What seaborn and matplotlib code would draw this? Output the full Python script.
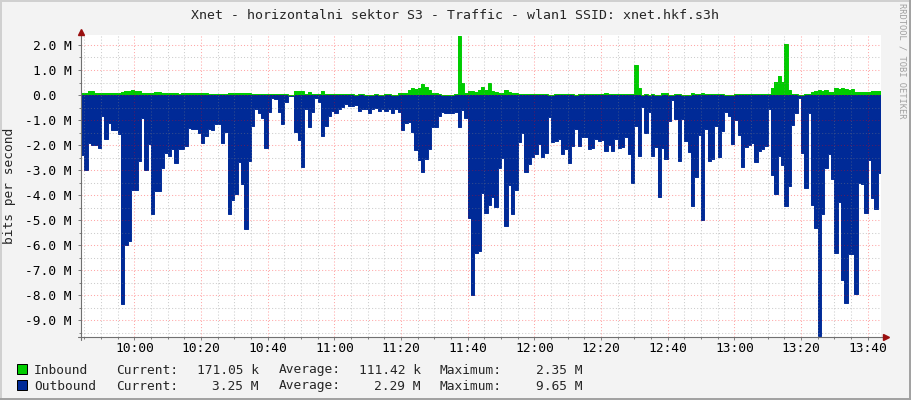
import numpy as np
import pandas as pd
import matplotlib
matplotlib.use('Agg')
import matplotlib.pyplot as plt
import matplotlib.dates as mdates
from matplotlib.ticker import MultipleLocator, FuncFormatter
from matplotlib.lines import Line2D
from matplotlib.patches import Rectangle
import seaborn as sns

# one sample per minute, starting 09:44, values in Mbit/s
inbound = [
    0.1, 0.1, 0.15, 0.16, 0.1, 0.09, 0.1, 0.1, 0.1, 0.08,
    0.08, 0.08, 0.12, 0.18, 0.17, 0.19, 0.17, 0.15, 0.07, 0.07,
    0.08, 0.08, 0.12, 0.12, 0.08, 0.08, 0.08, 0.07, 0.07, 0.06,
    0.1, 0.1, 0.1, 0.07, 0.07, 0.07, 0.1, 0.1, 0.06, 0.06,
    0.06, 0.06,
    0.05, 0.05, 0.09, 0.09, 0.09, 0.09, 0.09, 0.09, 0.09, 0.05,
    0.04, 0.04, 0.04, 0.05, 0.04, 0.04, 0.05, 0.05, 0.05, 0.03,
    0.0, 0.02, 0.16, 0.17, 0.15, 0.06, 0.12, 0.05, 0.03, 0.04,
    0.16, 0.06, 0.04, 0.03, 0.05, 0.03, 0.03, 0.03, 0.04, 0.04,
    0.02, 0.04, 0.04, 0.02, 0.02, 0.02, 0.04, 0.02, 0.02, 0.04,
    0.04, 0.02, 0.02, 0.09, 0.09, 0.07, 0.2, 0.27, 0.25, 0.29,
    0.45, 0.33, 0.2, 0.07, 0.07, 0.04, 0.0, 0.0, 0.0, 0.02,
    0.04, 2.35, 0.5, 0.07, 0.16, 0.16, 0.13, 0.2, 0.33, 0.2,
    0.47,
    0.16, 0.13, 0.09, 0.09, 0.2, 0.13, 0.1, 0.1, 0.04, 0.04,
    0.04, 0.04, 0.04, 0.04, 0.04, 0.04, 0.04, 0.0, 0.01, 0.04,
    0.04, 0.04, 0.04, 0.04, 0.03, 0.01, 0.04, 0.04, 0.04, 0.04,
    0.04, 0.04, 0.04, 0.04, 0.08, 0.04, 0.04, 0.04, 0.04, 0.04,
    0.04, 0.04, 0.04, 1.2, 0.29, 0.0, 0.04, 0.0, 0.04, 0.0,
    0.02, 0.09, 0.09, 0.0, 0.02, 0.04, 0.04, 0.0, 0.0, 0.02,
    0.09, 0.04, 0.04, 0.09, 0.04, 0.04, 0.04, 0.04, 0.04, 0.04,
    0.0, 0.0, 0.02, 0.04, 0.04, 0.04, 0.04, 0.04, 0.04, 0.04,
    0.04,
    0.04, 0.04, 0.04, 0.27, 0.53, 0.76, 0.53, 2.04, 0.2, 0.05,
    0.04, 0.01, 0.0, 0.04, 0.04, 0.13, 0.17, 0.2, 0.17, 0.2,
    0.13, 0.13, 0.27, 0.24, 0.27, 0.23, 0.2, 0.23, 0.13, 0.13,
    0.13, 0.13, 0.11, 0.16, 0.16, 0.17,
]

outbound = [
    2.4, 3.0, 1.9, 2.0, 2.0, 2.1, 0.85, 1.75, 1.1, 1.4,
    1.4, 1.55, 8.35, 6.0, 5.85, 3.8, 3.8, 2.65, 0.9, 3.0,
    1.95, 4.75, 3.85, 3.85, 2.9, 2.3, 2.45, 2.15, 2.7, 2.15,
    2.15, 2.05, 1.3, 1.35, 1.35, 1.5, 1.9, 1.65, 1.35, 1.4,
    1.15, 1.15,
    1.9, 1.47, 4.77, 4.2, 3.97, 2.67, 3.57, 5.37, 2.63, 1.23,
    0.56, 0.7, 0.9, 2.1, 0.67, 0.1, 0.17, 0.67, 1.17, 0.27,
    0.04, 0.04, 1.47, 1.8, 2.87, 0.56, 1.29, 0.67, 0.13, 0.27,
    1.63, 1.23, 0.83, 0.64, 0.7, 0.56, 0.47, 0.36, 0.44, 0.44,
    0.4, 0.62, 0.56, 0.56, 0.7, 0.56, 0.53, 0.64, 0.55, 0.62,
    0.56, 0.73, 0.56, 0.67, 1.4, 1.13, 1.09, 1.47, 2.2, 2.6,
    3.07, 2.57, 2.17, 1.27, 1.27, 0.84, 0.67, 0.7, 0.73, 0.73,
    0.67, 1.27, 0.6, 0.93, 4.93, 8.0, 6.3, 6.25, 3.9, 4.7,
    4.4,
    4.07, 4.47, 2.93, 2.53, 5.23, 3.6, 4.77, 3.8, 1.87, 1.53,
    3.07, 2.76, 2.47, 2.36, 1.96, 2.47, 2.33, 0.89, 1.87, 1.83,
    1.76, 2.37, 2.16, 2.7, 2.04, 1.37, 2.03, 1.69, 1.69, 2.17,
    2.13, 1.76, 1.83, 1.8, 2.23, 2.0, 2.24, 1.77, 2.13, 2.07,
    1.69, 2.36, 3.5, 1.24, 2.43, 0.49, 1.53, 0.68, 2.43, 2.07,
    4.07, 2.1, 2.57, 1.03, 0.2, 0.97, 2.64, 0.97, 1.83, 2.29,
    4.43, 3.27, 1.6, 5.0, 1.37, 2.63, 2.56, 1.24, 2.47, 1.43,
    0.69, 0.83, 1.96, 1.0, 1.6, 2.87, 2.07, 2.0, 1.91, 2.67,
    2.24,
    2.17, 2.03, 0.56, 3.2, 3.97, 2.44, 2.8, 4.43, 3.63, 1.2,
    0.71, 0.1, 2.31, 3.71, 0.71, 4.4, 5.31, 9.65, 4.77, 2.91,
    2.37, 3.37, 6.31, 4.29, 7.4, 8.33, 6.36, 6.36, 7.97, 3.53,
    3.55, 4.71, 2.6, 4.13, 4.57, 3.13,
]

legend_names = ['Inbound', 'Outbound']
legend_colors = ['#00cc00', '#002a97']
current_vals = ['171.05 k', '3.25 M']
average_vals = ['111.42 k', '2.29 M']
maximum_vals = ['2.35 M', '9.65 M']

title = 'Xnet - horizontalni sektor S3 - Traffic - wlan1 SSID: xnet.hkf.s3h'

W, H = 911, 400
MONO = ['DejaVu Sans Mono']
FS = 9.3

sns.set_theme(style='white')
plt.rcParams['font.family'] = MONO


def px(x, y):
    return x / W, 1 - y / H


times = pd.date_range('2000-01-01 09:44', periods=len(outbound) + 1, freq='min')
inb = np.append(inbound, inbound[-1])
outb = -np.append(outbound, outbound[-1])

fig = plt.figure(figsize=(W / 100, H / 100), dpi=100, facecolor='#f3f3f3')
ax = fig.add_axes([81 / W, 63 / H, 800 / W, 302 / H])
ax.set_facecolor('white')

ax.fill_between(times, 0, inb, step='post', color=legend_colors[0], lw=0, zorder=1)
ax.fill_between(times, 0, outb, step='post', color=legend_colors[1], lw=0, zorder=1)
sns.lineplot(x=times, y=inb, drawstyle='steps-post', color=legend_colors[0], lw=0.7, ax=ax)
sns.lineplot(x=times, y=outb, drawstyle='steps-post', color=legend_colors[1], lw=0.7, ax=ax)

ax.set_xlim(times[0], times[-1])
ax.set_ylim(-9.68, 2.4)

ax.xaxis.set_major_locator(mdates.MinuteLocator(byminute=[0, 20, 40]))
ax.xaxis.set_minor_locator(mdates.MinuteLocator(byminute=range(0, 60, 5)))
ax.xaxis.set_major_formatter(mdates.DateFormatter('%H:%M'))
ax.yaxis.set_major_locator(MultipleLocator(1.0))
ax.yaxis.set_minor_locator(MultipleLocator(0.5))


def ylab(v, pos):
    if abs(v) < 1e-9:
        return '0.0  '
    return f'{v:.1f} M'


ax.yaxis.set_major_formatter(FuncFormatter(ylab))

ax.set_axisbelow(False)
ax.grid(which='major', color='#ff0000', alpha=0.35, lw=0.75, ls=(0, (1, 2)))
ax.grid(which='minor', color='#808080', alpha=0.4, lw=0.75, ls=(0, (1, 2)))

ax.tick_params(which='both', direction='out', color='#808080', width=0.72,
               labelsize=FS, labelcolor='black', bottom=True, left=True)
ax.tick_params(axis='y', which='major', length=2.2, pad=4.3)
ax.tick_params(axis='y', which='minor', length=1.5)
ax.tick_params(axis='x', which='major', length=2.2, pad=1.2)
ax.tick_params(axis='x', which='minor', length=1.5)
for s in ax.spines.values():
    s.set_visible(False)
ax.set_xlabel('')
ax.set_ylabel('')

# axis lines with arrow heads
axis_col = '#707070'
arrow_col = '#9a1010'
fig.add_artist(Line2D(*zip(px(81, 340), px(81, 32)), color=axis_col, lw=0.8))
fig.add_artist(Line2D(*zip(px(78, 337), px(884, 337)), color=axis_col, lw=0.8))
fig.add_artist(Line2D(*zip(px(81, 31.5)), marker='^', ms=4, color=arrow_col, lw=0))
fig.add_artist(Line2D(*zip(px(885.5, 337)), marker='>', ms=4, color=arrow_col, lw=0))

# texts
fig.text(*px(455, 19), title, ha='center', va='baseline', fontsize=9.5)
fig.text(*px(10, 186), 'bits per second', rotation=90, ha='center', va='center', fontsize=FS)
fig.text(*px(902, 61), 'RRDTOOL / TOBI OETIKER', rotation=270, ha='center', va='center',
         fontsize=6.3, color='#a0a0a0')

rows_y = [373.5, 389.5]
for i, name in enumerate(legend_names):
    yb = rows_y[i]
    fig.add_artist(Rectangle(px(17, yb), 10 / W, 10 / H, facecolor=legend_colors[i],
                             edgecolor='black', lw=0.72, transform=fig.transFigure))
    fig.text(*px(34, yb), name, ha='left', va='baseline', fontsize=FS)
    fig.text(*px(116, yb), 'Current:', ha='left', va='baseline', fontsize=FS)
    fig.text(*px(259, yb), current_vals[i], ha='right', va='baseline', fontsize=FS)
    fig.text(*px(279, yb), 'Average:', ha='left', va='baseline', fontsize=FS)
    fig.text(*px(421, yb), average_vals[i], ha='right', va='baseline', fontsize=FS)
    fig.text(*px(440, yb), 'Maximum:', ha='left', va='baseline', fontsize=FS)
    fig.text(*px(582, yb), maximum_vals[i], ha='right', va='baseline', fontsize=FS)

# frame
fig.add_artist(Line2D([0, 1], [1 - 1 / H] * 2, color='#d0d0d0', lw=1.4))
fig.add_artist(Line2D([1 / W] * 2, [0, 1], color='#d0d0d0', lw=1.4))
fig.add_artist(Line2D([0, 1], [1 / H] * 2, color='#a0a0a0', lw=1.4))
fig.add_artist(Line2D([1 - 1 / W] * 2, [0, 1], color='#a0a0a0', lw=1.4))

fig.savefig('out.png', dpi=100, facecolor=fig.get_facecolor())
